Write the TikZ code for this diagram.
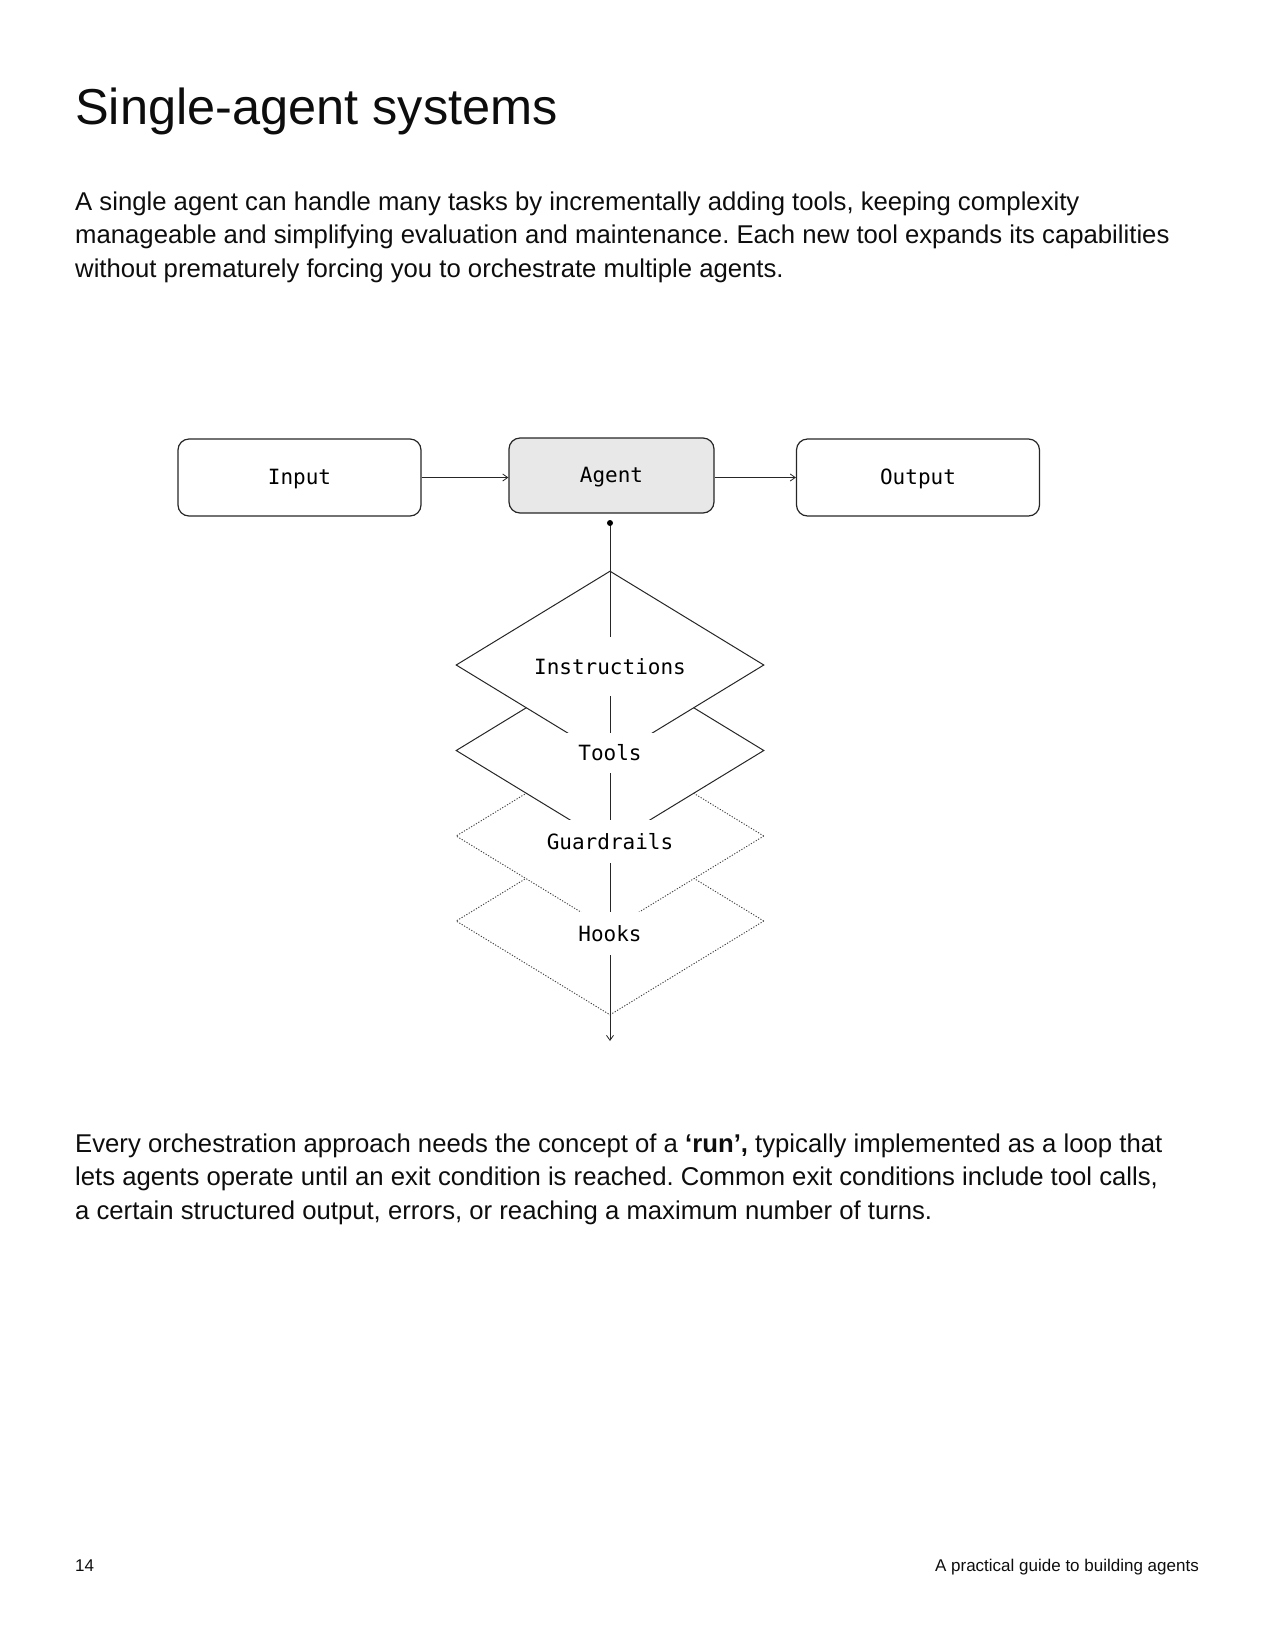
\documentclass[tikz,border=0pt]{standalone}
\usepackage{fontspec}
\setmainfont{Liberation Sans}
\setmonofont{DejaVu Sans Mono}
\usetikzlibrary{arrows.meta,shapes.geometric}
\frenchspacing
\begin{document}
\begin{tikzpicture}[x=1pt,y=-1pt,
  txt/.style={anchor=base west,inner sep=0pt,text=black!95,font=\fontsize{25.7}{30}\selectfont},
  box/.style={draw=black!85,line width=1.2pt,rounded corners=11pt,minimum width=243pt,minimum height=77pt,inner sep=0pt,text height=14pt,text depth=0pt,font=\ttfamily\fontsize{21}{25}\selectfont},
  conn/.style={draw=black!85,line width=1pt,-{Straight Barb[length=5pt,width=7pt,line width=0.8pt]}},
  layer/.style={diamond,minimum width=308pt,minimum height=188pt,inner sep=0pt,fill=white,draw=black!85,line width=1pt},
  dotlayer/.style={layer,draw=black!75,line width=0.9pt,dash pattern=on 1.2pt off 1.6pt},
  lbl/.style={fill=white,inner xsep=12pt,inner ysep=0pt,font=\ttfamily\fontsize{21}{25}\selectfont}
]
\useasboundingbox (0,0) rectangle (1275,1650);
% title and text
\node[txt,font=\fontsize{50.5}{60}\selectfont] (title) at (75,124) {Single-agent systems};
\node[txt] (p1) at (75,210) {A single agent can handle many tasks by incrementally adding tools, keeping complexity};
\node[txt] (p2) at (75,243.5) {manageable and simplifying evaluation and maintenance. Each new tool expands its capabilities};
\node[txt] (p3) at (75,277) {without prematurely forcing you to orchestrate multiple agents.};
\node[txt] (q1) at (75,1152) {Every orchestration approach needs the concept of a \textbf{‘run’,} typically implemented as a loop that};
\node[txt] (q2) at (75,1185.5) {lets agents operate until an exit condition is reached. Common exit conditions include tool calls,};
\node[txt] (q3) at (75,1219) {a certain structured output, errors, or reaching a maximum number of turns.};
\node[txt,font=\fontsize{17}{20}\selectfont] (pg) at (75,1571) {14};
\node[txt,anchor=base east,font=\fontsize{17}{20}\selectfont] (foot) at (1199,1571) {A practical guide to building agents};
% top row
\node[box] (input) at (299.5,477.5) {Input};
\node[box,fill=black!9,minimum width=205pt,minimum height=75pt] (agent) at (611.5,475.5) {Agent};
\node[box] (output) at (918,477.5) {Output};
\draw[conn] (input.east) -- (agent.west |- input.east);
\draw[conn] (agent.east |- output.west) -- (output.west);
% stacked layers
\node[dotlayer] (dhooks) at (610,921) {};
\node[dotlayer] (dguard) at (610,836) {};
\node[layer] (dtools) at (610,750.5) {};
\node[layer] (dinstr) at (610,665) {};
\coordinate (start) at (610,523);
\coordinate (stop) at (610,1041);
\draw[conn] (start) -- (stop);
\fill[black] (start) circle (3pt);
\node[lbl,minimum height=59pt] (linstr) at (610,666.5) {Instructions};
\node[lbl,minimum height=40pt] (ltools) at (610,753) {Tools};
\node[lbl,minimum height=43pt] (lguard) at (610,841.5) {Guardrails};
\node[lbl,minimum height=43pt] (lhooks) at (610,933.5) {Hooks};
\end{tikzpicture}
\end{document}
